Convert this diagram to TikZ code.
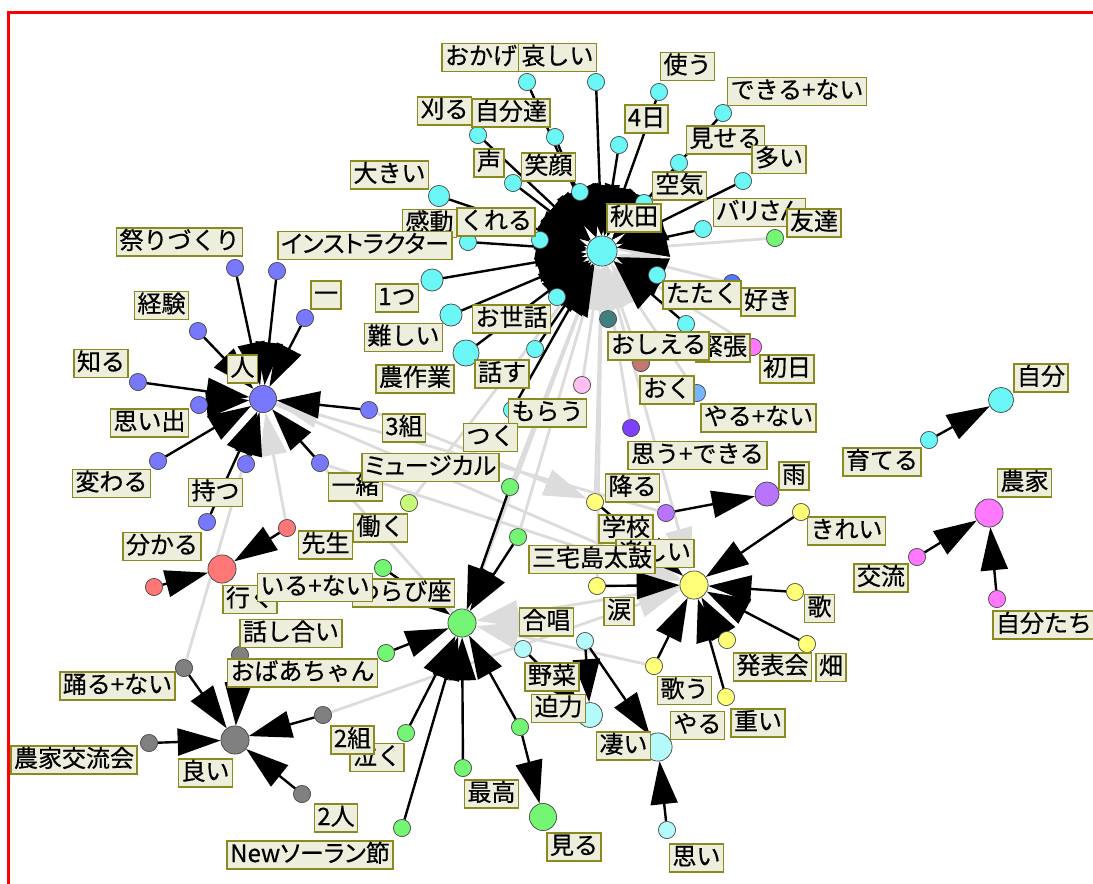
\documentclass[tikz,border=0pt]{standalone}
\usepackage{fontspec}
\setmainfont{Noto Sans CJK JP}[FakeBold=0.5]
\newfontfamily\pfont{Noto Sans CJK JP}[FakeBold=0.5,RawFeature=+palt]
\usetikzlibrary{arrows.meta}
\definecolor{cy}{HTML}{6CF7F7}
\definecolor{bl}{HTML}{7878FF}
\definecolor{sa}{HTML}{FF7777}
\definecolor{gy}{HTML}{808080}
\definecolor{gr}{HTML}{74F574}
\definecolor{ye}{HTML}{FFFF78}
\definecolor{lc}{HTML}{B4FAFA}
\definecolor{pu}{HTML}{B974FF}
\definecolor{mg}{HTML}{FF78FF}
\definecolor{te}{HTML}{3F7F7F}
\definecolor{br}{HTML}{C07870}
\definecolor{pk}{HTML}{FFBFF0}
\definecolor{lb}{HTML}{78B4FF}
\definecolor{db}{HTML}{4F78FF}
\definecolor{dp}{HTML}{7F3FFF}
\definecolor{lg}{HTML}{C8FF78}
\definecolor{gl}{HTML}{DCDCDC}
\definecolor{labbg}{HTML}{EEEEDD}
\definecolor{olv}{HTML}{8A8A20}
\begin{document}
\begin{tikzpicture}[x=1pt,y=-1pt,
  nd/.style={circle,draw=black!70,line width=0.6pt,inner sep=0pt,minimum size=17pt},
  blk/.style={draw=black,line width=2.4pt,-{Triangle[length=43pt,width=27pt]}},
  blkA/.style={draw=black,line width=2.4pt,-{Triangle[length=50pt,width=40pt]}},
  gry/.style={draw=gl,line width=2.8pt,-{Triangle[length=43pt,width=27pt]}},
  lab/.style={draw=olv,fill=labbg,line width=1.6pt,inner xsep=3pt,inner ysep=3pt,
    text height=18pt,text depth=4pt,font=\fontsize{24}{24}\selectfont}]
\useasboundingbox (0,0) rectangle (1093,884);
\fill[white] (0,0) rectangle (1093,884);
% ---------- nodes ----------
\node[nd,fill=cy,minimum size=30pt] (ak) at (602,251) {};
\node[nd,fill=cy] (okage) at (527,82) {};
\node[nd,fill=cy] (kanashii) at (596,82) {};
\node[nd,fill=cy] (karu) at (478,135) {};
\node[nd,fill=cy] (jibuntachi) at (555,137) {};
\node[nd,fill=cy] (koe) at (513,183) {};
\node[nd,fill=cy] (egao) at (580,192) {};
\node[nd,fill=cy,minimum size=21pt] (ookii) at (439,196) {};
\node[nd,fill=cy] (kando) at (468,242) {};
\node[nd,fill=cy] (kureru) at (540,240) {};
\node[nd,fill=cy,minimum size=22pt] (hitotsu) at (432,280) {};
\node[nd,fill=cy,minimum size=22pt] (muzukashii) at (451,315) {};
\node[nd,fill=cy] (osewa) at (557,297) {};
\node[nd,fill=cy,minimum size=26pt] (nousagyou) at (466,353) {};
\node[nd,fill=cy] (hanasu) at (535,349) {};
\node[nd,fill=cy] (morau) at (512,410) {};
\node[nd,fill=cy] (tsukau) at (659,92) {};
\node[nd,fill=cy] (yokka) at (619,145) {};
\node[nd,fill=cy] (dekinai) at (723,113) {};
\node[nd,fill=cy] (miseru) at (679,163) {};
\node[nd,fill=cy] (ooi) at (743,181) {};
\node[nd,fill=cy] (kuuki) at (644,203) {};
\node[nd,fill=cy] (barisan) at (703,229) {};
\node[nd,fill=cy] (tataku) at (657,275) {};
\node[nd,fill=cy] (kincho) at (686,324) {};
\node[nd,fill=gr] (tomodachi) at (775,238) {};
\node[nd,fill=db] (suki) at (732,283) {};
\node[nd,fill=te] (oshieru) at (608,319) {};
\node[nd,fill=br] (brown) at (641,363) {};
\node[nd,fill=mg] (shonichi) at (753,347) {};
\node[nd,fill=lb] (oku) at (697,393) {};
\node[nd,fill=pk] (pink) at (582,385) {};
\node[nd,fill=dp] (omoudekiru) at (631,428) {};
\node[nd,fill=bl,minimum size=27pt] (hito) at (263,399) {};
\node[nd,fill=bl] (matsuri) at (235,268) {};
\node[nd,fill=bl] (instructor) at (277,271) {};
\node[nd,fill=bl] (ichi) at (305,318) {};
\node[nd,fill=bl] (keiken) at (198,331) {};
\node[nd,fill=bl] (shiru) at (138,382) {};
\node[nd,fill=bl] (omoide) at (199,405) {};
\node[nd,fill=bl] (sankumi) at (369,410) {};
\node[nd,fill=bl] (kawaru) at (158,461) {};
\node[nd,fill=bl] (motsu) at (246,464) {};
\node[nd,fill=bl] (wakaru) at (207,522) {};
\node[nd,fill=bl] (issho) at (320,463) {};
\node[nd,fill=sa,minimum size=28pt] (iku) at (222,569) {};
\node[nd,fill=sa] (sensei) at (287,528) {};
\node[nd,fill=sa] (odori) at (154,587) {};
\node[nd,fill=gy,minimum size=28pt] (yoi) at (235,740) {};
\node[nd,fill=gy] (odorunai) at (184,668) {};
\node[nd,fill=gy] (hanashiai) at (240,655) {};
\node[nd,fill=gy] (nkk) at (149,743) {};
\node[nd,fill=gy] (nikumi) at (323,715) {};
\node[nd,fill=gy] (futari) at (302,794) {};
\node[nd,fill=gr,minimum size=28pt] (gh) at (462,623) {};
\node[nd,fill=gr] (musical) at (510,487) {};
\node[nd,fill=lg] (hataraku) at (409,503) {};
\node[nd,fill=gr] (miyake) at (518,537) {};
\node[nd,fill=gr] (warabiza) at (383,568) {};
\node[nd,fill=gr] (obaachan) at (386,653) {};
\node[nd,fill=gr] (naku) at (406,733) {};
\node[nd,fill=gr] (newsoran) at (402,828) {};
\node[nd,fill=gr] (saikou) at (463,768) {};
\node[nd,fill=gr] (gunk) at (520,727) {};
\node[nd,fill=gr,minimum size=27pt] (miru) at (543,817) {};
\node[nd,fill=ye,minimum size=28pt] (yh) at (694,585) {};
\node[nd,fill=ye] (furu) at (595,502) {};
\node[nd,fill=ye] (namida) at (597,586) {};
\node[nd,fill=ye] (kirei) at (801,512) {};
\node[nd,fill=ye] (uta) at (795,592) {};
\node[nd,fill=ye] (hatake) at (807,644) {};
\node[nd,fill=ye] (happyokai) at (727,640) {};
\node[nd,fill=ye] (utau) at (654,666) {};
\node[nd,fill=ye] (omoi2) at (726,697) {};
\node[nd,fill=pu,minimum size=24pt] (ame) at (767,494) {};
\node[nd,fill=pu] (amesrc) at (666,513) {};
\node[nd,fill=lc,minimum size=28pt] (sugoi) at (658,747) {};
\node[nd,fill=lc,minimum size=25pt] (hakuryoku) at (590,715) {};
\node[nd,fill=lc] (yasai) at (523,649) {};
\node[nd,fill=lc] (gassho) at (585,641) {};
\node[nd,fill=lc] (omoi) at (667,830) {};
\node[nd,fill=cy,minimum size=25pt] (jibun) at (1001,400) {};
\node[nd,fill=cy] (sodateru) at (929,440) {};
\node[nd,fill=mg,minimum size=28pt] (nouka) at (989,513) {};
\node[nd,fill=mg] (kouryu) at (917,557) {};
\node[nd,fill=mg] (jibuntachi2) at (997,599) {};

% ---------- gray edges ----------
\foreach \s/\t in {tomodachi/ak,suki/ak,shonichi/ak,oshieru/ak,brown/ak,pink/ak,oku/ak,
  omoudekiru/ak,furu/ak,musical/ak,miyake/ak,hataraku/ak,gh/ak,namida/ak,ak/yh,
  hito/yh,gh/hito,amesrc/hito,sensei/hito,odorunai/hito,nikumi/yh,yh/gh,utau/gh,
  sankumi/furu,issho/yh}
  \draw[gry] (\s) -- (\t);
% ---------- black edges ----------
\foreach \s in {okage,kanashii,karu,jibuntachi,koe,egao,ookii,kando,kureru,hitotsu,
  muzukashii,osewa,nousagyou,hanasu,morau,tsukau,yokka,dekinai,miseru,ooi,kuuki,
  barisan,tataku,kincho}
  \draw[blkA] (\s) -- (ak);
\foreach \s in {matsuri,instructor,ichi,keiken,shiru,omoide,sankumi,kawaru,motsu,wakaru,issho}
  \draw[blk] (\s) -- (hito);
\foreach \s in {sensei,odori} \draw[blk] (\s) -- (iku);
\foreach \s in {odorunai,hanashiai,nkk,nikumi,futari} \draw[blk] (\s) -- (yoi);
\foreach \s in {musical,miyake,warabiza,obaachan,naku,newsoran,saikou,gunk} \draw[blk] (\s) -- (gh);
\draw[blk] (gunk) -- (miru);
\foreach \s in {furu,namida,kirei,uta,hatake,happyokai,utau,omoi2} \draw[blk] (\s) -- (yh);
\draw[blk] (amesrc) -- (ame);
\foreach \s in {gassho,omoi} \draw[blk] (\s) -- (sugoi);
\foreach \s in {gassho,yasai} \draw[blk] (\s) -- (hakuryoku);
\draw[blk] (sodateru) -- (jibun);
\draw[blk] (kouryu) -- (nouka);
\draw[blk] (jibuntachi2) -- (nouka);

% ---------- node discs on top of connectors ----------
\node[nd,fill=cy,minimum size=30pt] at (ak) {};
\foreach \n in {okage,kanashii,karu,jibuntachi,koe,egao,kando,kureru,osewa,hanasu,morau,tsukau,yokka,dekinai,miseru,ooi,kuuki,barisan,tataku,kincho}
  \node[nd,fill=cy] at (\n) {};
\node[nd,fill=cy,minimum size=21pt] at (ookii) {};
\node[nd,fill=cy,minimum size=22pt] at (hitotsu) {};
\node[nd,fill=cy,minimum size=22pt] at (muzukashii) {};
\node[nd,fill=cy,minimum size=26pt] at (nousagyou) {};
\node[nd,fill=gr] at (tomodachi) {};
\node[nd,fill=db] at (suki) {};
\node[nd,fill=te] at (oshieru) {};
\node[nd,fill=br] at (brown) {};
\node[nd,fill=mg] at (shonichi) {};
\node[nd,fill=lb] at (oku) {};
\node[nd,fill=pk] at (pink) {};
\node[nd,fill=dp] at (omoudekiru) {};
\node[nd,fill=bl,minimum size=27pt] at (hito) {};
\foreach \n in {matsuri,instructor,ichi,keiken,shiru,omoide,sankumi,kawaru,motsu,wakaru,issho}
  \node[nd,fill=bl] at (\n) {};
\node[nd,fill=sa,minimum size=28pt] at (iku) {};
\node[nd,fill=sa] at (sensei) {};
\node[nd,fill=sa] at (odori) {};
\node[nd,fill=gy,minimum size=28pt] at (yoi) {};
\foreach \n in {odorunai,hanashiai,nkk,nikumi,futari} \node[nd,fill=gy] at (\n) {};
\node[nd,fill=gr,minimum size=28pt] at (gh) {};
\foreach \n in {musical,miyake,warabiza,obaachan,naku,newsoran,saikou,gunk} \node[nd,fill=gr] at (\n) {};
\node[nd,fill=lg] at (hataraku) {};
\node[nd,fill=gr,minimum size=27pt] at (miru) {};
\node[nd,fill=ye,minimum size=28pt] at (yh) {};
\foreach \n in {furu,namida,kirei,uta,hatake,happyokai,utau,omoi2} \node[nd,fill=ye] at (\n) {};
\node[nd,fill=pu,minimum size=24pt] at (ame) {};
\node[nd,fill=pu] at (amesrc) {};
\node[nd,fill=lc,minimum size=28pt] at (sugoi) {};
\node[nd,fill=lc,minimum size=25pt] at (hakuryoku) {};
\foreach \n in {yasai,gassho,omoi} \node[nd,fill=lc] at (\n) {};
\node[nd,fill=cy,minimum size=25pt] at (jibun) {};
\node[nd,fill=cy] at (sodateru) {};
\node[nd,fill=mg,minimum size=28pt] at (nouka) {};
\node[nd,fill=mg] at (kouryu) {};
\node[nd,fill=mg] at (jibuntachi2) {};

% ---------- labels ----------
\node[lab] (l1) at (481,57.5) {おかげ};
\node[lab] (l2) at (557.5,57.5) {哀しい};
\node[lab] (l3) at (444.5,111) {刈る};
\node[lab] (l4) at (511,113) {自分達};
\node[lab] (l5) at (489,163) {声};
\node[lab] (l6) at (548.5,167) {笑顔};
\node[lab] (l7) at (389.5,175) {大きい};
\node[lab] (l8) at (429.5,223.5) {感動};
\node[lab] (l9) at (496,222) {くれる};
\node[lab,font=\fontsize{24}{24}\pfont] (l10) at (365,245.5) {インストラクター};
\node[lab] (l11) at (397,298) {1つ};
\node[lab] (l12) at (403.5,337.5) {難しい};
\node[lab] (l13) at (511.5,319) {お世話};
\node[lab] (l14) at (415,379) {農作業};
\node[lab] (l15) at (502,374) {話す};
\node[lab] (l16) at (547.5,413) {もらう};
\node[lab] (l17) at (490.5,437.5) {つく};
\node[lab] (l18) at (687.5,66.5) {使う};
\node[lab] (l19) at (646.5,119) {4日};
\node[lab] (l20) at (797,91.5) {できる+ない};
\node[lab] (l21) at (725.5,140) {見せる};
\node[lab] (l22) at (779,159.5) {多い};
\node[lab] (l23) at (679.5,186) {空気};
\node[lab] (l24) at (634,218) {秋田};
\node[lab,font=\fontsize{24}{24}\pfont] (l25) at (759.5,212.5) {バリさん};
\node[lab] (l26) at (814,223) {友達};
\node[lab] (l27) at (702,295) {たたく};
\node[lab] (l28) at (768,302) {好き};
\node[lab] (l29) at (723,348) {緊張};
\node[lab] (l30) at (658.5,346) {おしえる};
\node[lab] (l31) at (787,369) {初日};
\node[lab] (l32) at (667,390) {おく};
\node[lab] (l33) at (758.5,418) {やる+ない};
\node[lab] (l34) at (697.5,455.5) {思う+できる};
\node[lab] (l35) at (179.5,242) {祭りづくり};
\node[lab] (l36) at (326,295) {一};
\node[lab] (l37) at (161.5,305.5) {経験};
\node[lab] (l38) at (242.5,369) {人};
\node[lab] (l39) at (101,363.5) {知る};
\node[lab] (l40) at (149.5,423) {思い出};
\node[lab] (l41) at (404,428) {3組};
\node[lab] (l42) at (111.5,483.5) {変わる};
\node[lab] (l43) at (215.5,492.5) {持つ};
\node[lab] (l44) at (162,546.5) {分かる};
\node[lab] (l45) at (355.5,487) {一緒};
\node[lab,font=\fontsize{24}{24}\pfont] (l46) at (430.5,467.5) {ミュージカル};
\node[lab] (l47) at (380.5,528) {働く};
\node[lab] (l48) at (325.5,545) {先生};
\node[lab] (l49) at (250,599.5) {行く};
\node[lab] (l50) at (403.5,593) {わらび座};
\node[lab] (l51) at (315,587.5) {いる+ない};
\node[lab] (l52) at (291,633.5) {話し合い};
\node[lab] (l53) at (302.5,673) {おばあちゃん};
\node[lab] (l54) at (117.5,686) {踊る+ない};
\node[lab] (l55) at (74,760) {農家交流会};
\node[lab] (l56) at (205.5,773) {良い};
\node[lab] (l57) at (377,757.5) {泣く};
\node[lab] (l58) at (352.5,740) {2組};
\node[lab] (l59) at (336,818) {2人};
\node[lab,font=\fontsize{24}{24}\pfont] (l60) at (310,855) {Newソーラン節};
\node[lab] (l61) at (491.5,794) {最高};
\node[lab] (l62) at (574,847) {見る};
\node[lab] (l63) at (632.5,488) {降る};
\node[lab] (l64) at (626,529) {学校};
\node[lab] (l65) at (655,553.5) {楽しい};
\node[lab] (l66) at (592,559.5) {三宅島太鼓};
\node[lab] (l67) at (794,476) {雨};
\node[lab] (l68) at (846.5,531) {きれい};
\node[lab] (l69) at (619,611.5) {涙};
\node[lab] (l70) at (819.5,608.5) {歌};
\node[lab] (l71) at (831,667.5) {畑};
\node[lab] (l72) at (772.5,667) {発表会};
\node[lab] (l73) at (684.5,690.5) {歌う};
\node[lab] (l74) at (758,723) {重い};
\node[lab] (l75) at (546.5,622) {合唱};
\node[lab] (l76) at (552,677) {野菜};
\node[lab] (l77) at (558.5,708.5) {迫力};
\node[lab] (l78) at (623.5,746) {凄い};
\node[lab] (l79) at (697.5,725.5) {やる};
\node[lab] (l80) at (696.5,858) {思い};
\node[lab] (l81) at (1041,378) {自分};
\node[lab] (l82) at (882,462) {育てる};
\node[lab] (l83) at (1024.5,483) {農家};
\node[lab] (l84) at (881,578) {交流};
\node[lab] (l85) at (1044,625) {自分たち};
% frame
\draw[red,line width=3pt] (8,884) -- (8,12) -- (1093,12);
\end{tikzpicture}
\end{document}
